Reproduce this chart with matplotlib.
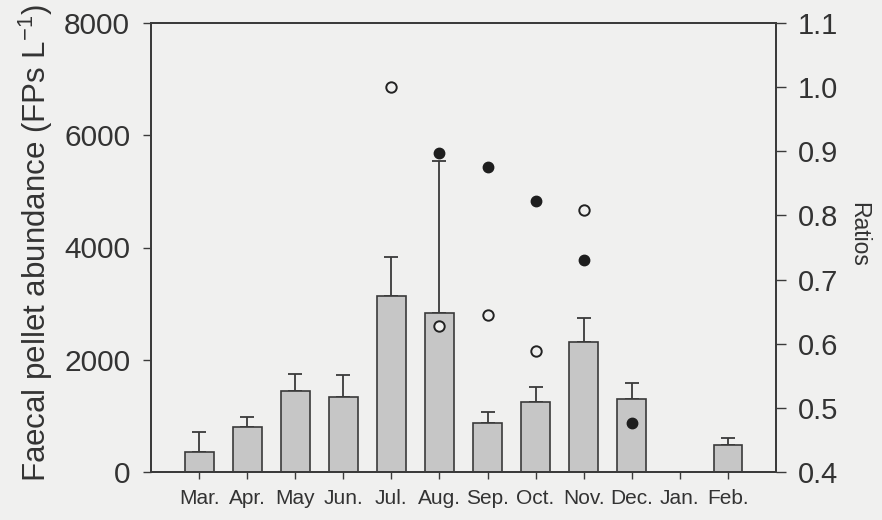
import matplotlib
matplotlib.use("Agg")
import matplotlib.pyplot as plt
import numpy as np

months = ["Mar.", "Apr.", "May", "Jun.", "Jul.", "Aug.", "Sep.", "Oct.", "Nov.", "Dec.", "Jan.", "Feb."]
abundance = [360, 800, 1440, 1335, 3130, 2830, 872, 1246, 2314, 1300, np.nan, 480]
abundance_err = [350, 180, 305, 390, 700, 2710, 196, 267, 427, 284, np.nan, 125]
ratio_open = [np.nan, np.nan, np.nan, np.nan, 1.00, 0.628, 0.645, 0.588, 0.808, np.nan, np.nan, np.nan]
ratio_filled = [np.nan, np.nan, np.nan, np.nan, np.nan, 0.898, 0.875, 0.823, 0.730, 0.477, np.nan, np.nan]

plt.rcParams['font.family'] = ['Liberation Sans', 'DejaVu Sans']
plt.rcParams['mathtext.default'] = 'regular'

bg = '#f0f0ef'
line_col = '#3a3a3a'

fig = plt.figure(figsize=(8.82, 5.2), dpi=100, facecolor=bg)
ax = fig.add_axes([151 / 882, 48 / 520, 625 / 882, 449 / 520])
ax.set_facecolor(bg)

x = np.arange(len(months))
ax.bar(x, abundance, width=0.6, color='#c6c6c6', edgecolor=line_col, linewidth=1.2, zorder=2)
ax.errorbar(x, abundance, yerr=[np.zeros(len(x)), abundance_err], fmt='none',
            ecolor=line_col, elinewidth=1.3, capsize=5, capthick=1.3, zorder=1)

ax.set_xlim(-1, 12)
ax.set_ylim(0, 8000)
ax.set_yticks([0, 2000, 4000, 6000, 8000])
ax.set_xticks(x)
ax.set_xticklabels(months, fontsize=15, color='#333333')
ax.tick_params(axis='y', labelsize=21.5, length=6, width=1, colors=line_col, labelcolor='#333333', pad=9)
ax.tick_params(axis='x', length=5, width=1, colors=line_col, labelcolor='#333333', pad=7)
ax.set_ylabel('Faecal pellet abundance (FPs L$^{-1}$)', fontsize=22.5, color='#333333')
ax.yaxis.set_label_coords(-0.153, 0.51)
for s in ax.spines.values():
    s.set_color(line_col)
    s.set_linewidth(1.3)

ax2 = ax.twinx()
ax2.plot(x, ratio_open, 'o', ms=7.5, mfc=bg, mec='#222222', mew=1.4, zorder=3)
ax2.plot(x, ratio_filled, 'o', ms=7.5, mfc='#1e1e1e', mec='#1e1e1e', zorder=3)
ax2.set_ylim(0.4, 1.1)
ax2.set_yticks(np.round(np.arange(0.4, 1.11, 0.1), 1))
ax2.set_yticklabels([f"{v:.1f}" for v in np.arange(0.4, 1.11, 0.1)])
ax2.tick_params(axis='y', labelsize=21, length=7, width=1, colors=line_col, labelcolor='#333333', pad=9)
ax2.set_ylabel('Ratios', fontsize=16.5, rotation=270, color='#333333')
ax2.yaxis.set_label_coords(1.15, 0.53)
for s in ax2.spines.values():
    s.set_color(line_col)
    s.set_linewidth(1.3)

fig.savefig('out.png', dpi=100, facecolor=bg)
